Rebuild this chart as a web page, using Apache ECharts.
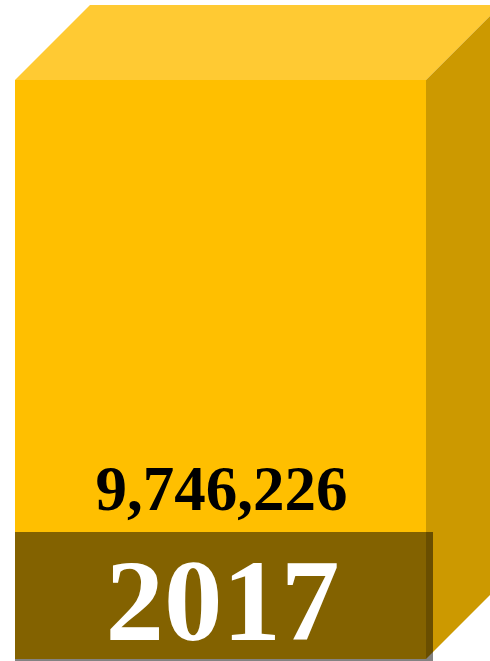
<!DOCTYPE html>
<html lang="en">
<head>
    <meta charset="UTF-8">
    <title>2017</title>
    <script src="https://cdn.jsdelivr.net/npm/echarts@6/dist/echarts.min.js"></script>
    <style>
        html,body{margin:0;padding:0;background:#fff;}
        #main{width:490px;height:661px;}
    </style>
</head>
<body>
<div id="main"></div>
<script>
    // 数据
    var years = ['2017'];
    var values = [9746226];

    var DEPTH = 75;      // 立体深度
    var BAND_H = 127;    // 底部年份条高度

    var chart = echarts.init(document.getElementById('main'));

    function renderBox(params, api) {
        var cat = api.value(0);
        var val = api.value(1);
        var top = api.coord([cat, val]);
        var bottom = api.coord([cat, 0]);
        var w = api.size([1, 0])[0];
        var x0 = top[0] - w / 2, x1 = top[0] + w / 2;
        var y0 = top[1], y1 = bottom[1];
        var children = [
            //正面
            {type:'rect', shape:{x:x0, y:y0, width:w, height:y1 - y0}, style:{fill:'#FFBF00'}},
            //顶面
            {type:'polygon', shape:{points:[[x0,y0],[x0+DEPTH,y0-DEPTH],[x1+DEPTH,y0-DEPTH],[x1,y0]]}, style:{fill:'#FFCA33'}},
            //侧面
            {type:'polygon', shape:{points:[[x1,y0],[x1+DEPTH,y0-DEPTH],[x1+DEPTH,y1-DEPTH],[x1,y1]]}, style:{fill:'#CC9900'}},
            //年份条
            {type:'rect', shape:{x:x0, y:y1 - BAND_H, width:w + 7, height:BAND_H + 4}, style:{fill:'rgba(0,0,0,0.485)'}},
            //数值
            {type:'text', style:{
                x:(x0 + x1) / 2 + 1, y:y1 - 165,
                text:echarts.format.addCommas(val),
                font:'bold 63px "Liberation Serif", "Times New Roman", serif',
                fill:'#000', align:'center', verticalAlign:'middle'
            }},
            //年份
            {type:'text', style:{
                x:(x0 + x1) / 2 + 2, y:y1 - 49,
                text:api.value(2),
                font:'bold 117px "Liberation Serif", "Times New Roman", serif',
                fill:'#fff', align:'center', verticalAlign:'middle'
            }}
        ];
        return {type:'group', children:children};
    }

    var option = {
        animation:false,
        grid:{left:15, right:64, top:80, bottom:2},
        xAxis:{type:'category', data:years, show:false},
        yAxis:{type:'value', min:0, max:values[0], show:false},
        series:[{
            type:'custom',
            renderItem:renderBox,
            clip:false,
            data:years.map(function (y, i) { return [i, values[i], y]; })
        }]
    };
    chart.setOption(option);
</script>
</body>
</html>
